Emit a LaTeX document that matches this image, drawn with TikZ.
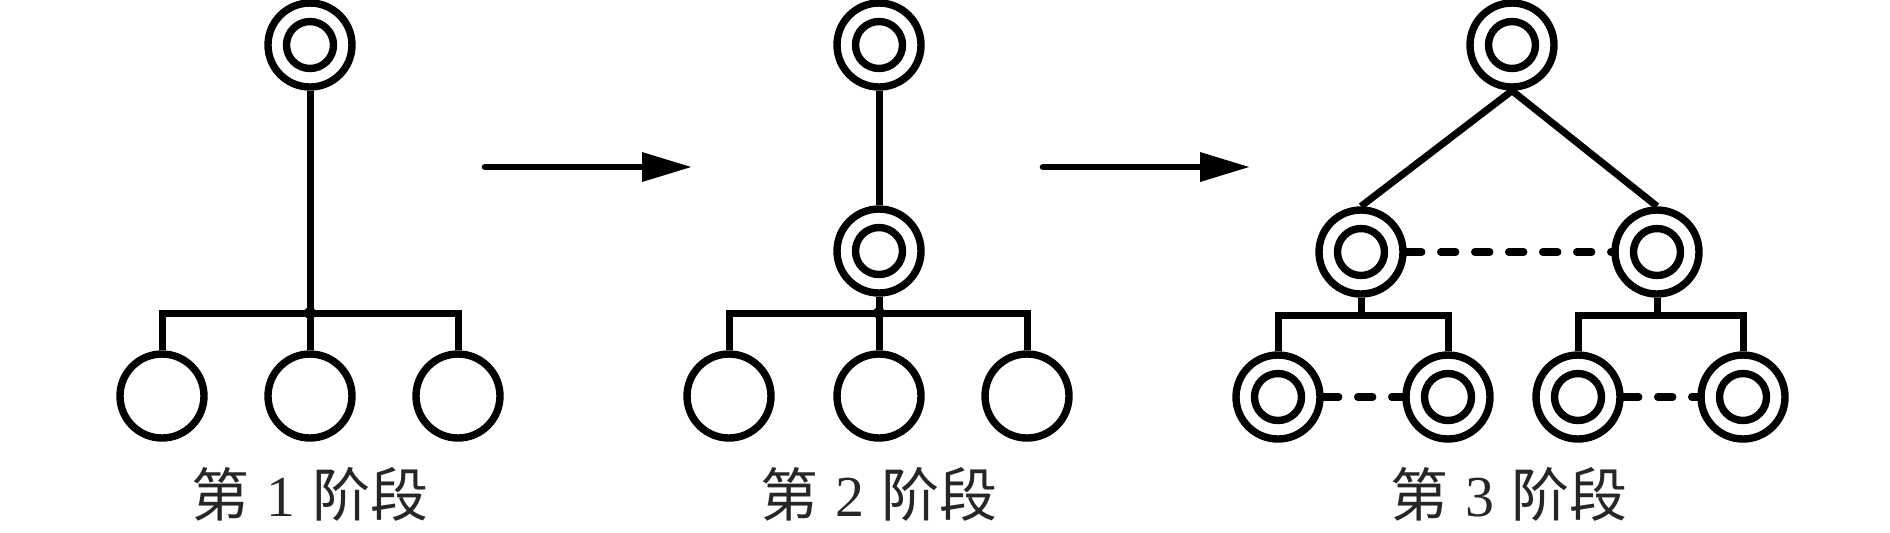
\documentclass[tikz,border=0pt]{standalone}
\usepackage{fontspec}
\newfontfamily\cjk{Noto Sans CJK SC}
\newfontfamily\numfont{Liberation Serif}
\usetikzlibrary{arrows.meta}
\tikzset{
  ring/.style={circle, draw, line width=3.7pt, minimum size=42pt, inner sep=0pt},
  core/.style={circle, draw, line width=3.7pt, minimum size=23.5pt, inner sep=0pt},
  wire/.style={line width=3.5pt},
  dashwire/.style={line width=3.7pt, line cap=round, dash pattern=on 7.5pt off 9.5pt},
  flow/.style={line width=3.3pt, line cap=round, -{Triangle[length=25pt,width=14pt]}},
  stagelabel/.style={anchor=base, inner sep=0pt, text=black!85,
    font=\cjk\fontsize{29pt}{29pt}\selectfont},
  joint/.style={fill=black}
}
\newcommand\dblnode[2]{\node[ring] (#1) at (#2) {}; \node[core] (#1c) at (#2) {};}
\newcommand\stagetext[1]{第\hspace{0.3em}{\numfont #1}\hspace{0.3em}阶段}
\begin{document}
\begin{tikzpicture}[x=0.5pt,y=-0.5pt]
\useasboundingbox (0,0) rectangle (1890,532);
% ---------- stage 1 ----------
\dblnode{t1}{310,45}
\node[ring] (c11) at (162,396) {};
\node[ring] (c12) at (310,396) {};
\node[ring] (c13) at (458,396) {};
\coordinate (j1) at (310,313);
\draw[wire] (t1.south) -- (j1);
\draw[wire] (c11.north) |- (j1) -| (c13.north);
\draw[wire] (j1) -- (c12.north);
\fill[joint] (j1) circle (3pt);
\node[stagelabel] (l1) at (310,516) {\stagetext{1}};
% ---------- arrow 1 ----------
\coordinate (a1s) at (485,167);
\coordinate (a1e) at (692,167);
\draw[flow] (a1s) -- (a1e);
% ---------- stage 2 ----------
\dblnode{t2}{879,45}
\dblnode{m2}{879,251}
\node[ring] (c21) at (729,396) {};
\node[ring] (c22) at (879,396) {};
\node[ring] (c23) at (1027,396) {};
\coordinate (j2) at (879,313);
\draw[wire] (t2.south) -- (m2.north);
\draw[wire] (m2.south) -- (j2);
\draw[wire] (c21.north) |- (j2) -| (c23.north);
\draw[wire] (j2) -- (c22.north);
\fill[joint] (j2) circle (3pt);
\node[stagelabel] (l2) at (879,516) {\stagetext{2}};
% ---------- arrow 2 ----------
\coordinate (a2s) at (1043,167);
\coordinate (a2e) at (1250,167);
\draw[flow] (a2s) -- (a2e);
% ---------- stage 3 ----------
\dblnode{t3}{1512,45}
\dblnode{ml}{1361,252}
\dblnode{mr}{1657,252}
\dblnode{b1}{1278,397}
\dblnode{b2}{1448,397}
\dblnode{b3}{1578,397}
\dblnode{b4}{1743,397}
\draw[wire] (t3.south) -- (ml.north);
\draw[wire] (t3.south) -- (mr.north);
\draw[dashwire] (ml.east) -- (mr.west);
\coordinate (jl) at (1361,315);
\coordinate (jr) at (1657,315);
\draw[wire] (ml.south) -- (jl);
\draw[wire] (b1.north) |- (jl) -| (b2.north);
\draw[wire] (mr.south) -- (jr);
\draw[wire] (b3.north) |- (jr) -| (b4.north);
\draw[dashwire] (b1.east) -- (b2.west);
\draw[dashwire] (b3.east) -- (b4.west);
\node[stagelabel] (l3) at (1509,516) {\stagetext{3}};
\end{tikzpicture}
\end{document}
